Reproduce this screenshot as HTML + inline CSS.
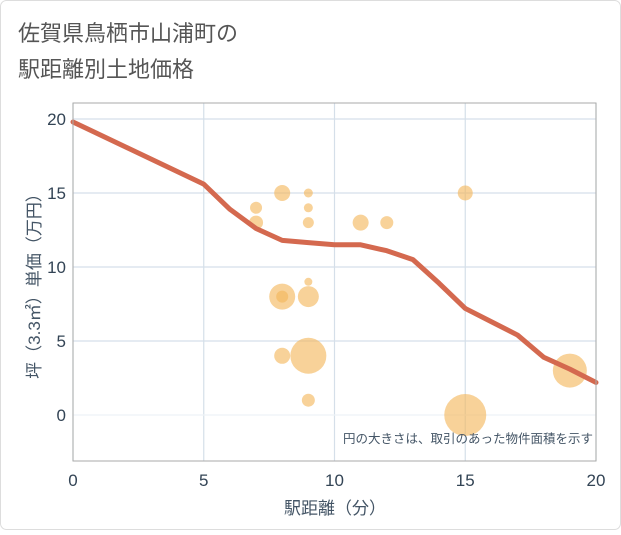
<!DOCTYPE html>
<html><head><meta charset="utf-8"><style>
body{margin:0;background:#fff;}
svg text{font-family:"Liberation Sans","Noto Sans CJK JP",sans-serif;}
</style></head><body>
<svg width="621" height="530" viewBox="0 0 621 530">
<rect x="0.5" y="0.5" width="620" height="529" rx="6" fill="#fff" stroke="#ddd"/>
<text x="18" y="41" font-size="22" fill="#555">佐賀県鳥栖市山浦町の</text>
<text x="18" y="77" font-size="22" fill="#555">駅距離別土地価格</text>
<g id="grid"></g>
<g id="bubbles"></g>
<g id="line"></g>
<rect x="73" y="103" width="523" height="358" fill="none" stroke="#aaa"/>
<g id="ticks"></g>
<text x="335" y="514" font-size="17" fill="#445566" text-anchor="middle">駅距離（分）</text>
<text transform="translate(40,282) rotate(-90)" font-size="17" fill="#445566" text-anchor="middle">坪（3.3㎡）単価（万円）</text>
<text x="593" y="443" font-size="12.5" fill="#445566" text-anchor="end">円の大きさは、取引のあった物件面積を示す</text>
</svg>
<script>
const xTicks=[0,5,10,15,20];
const yTicks=[0,5,10,15,20];
const bubbleX=[7,7,8,9,9,9,11,12,15,9,8,8,9,8,9,9,15,19];
const bubbleY=[14,13,15,15,14,13,13,13,15,9,8,8,8,4,4,1,0,3];
const bubbleR=[6,7,8,4.5,4.5,5.5,8,6.5,7.5,4,13,6,10.5,8,18,6.5,21,17];
const lineX=[0,5,6,7,8,9,10,11,12,13,14,15,16,17,18,19,20];
const lineY=[19.8,15.6,13.9,12.6,11.8,11.65,11.5,11.5,11.1,10.5,8.9,7.2,6.3,5.4,3.9,3.1,2.2];
const NS="http://www.w3.org/2000/svg";
const sx=v=>73+v*26.15, sy=v=>415-v*14.8;
function mk(t,a,p){const e=document.createElementNS(NS,t);for(const k in a)e.setAttribute(k,a[k]);p.appendChild(e);return e;}
const g=document.getElementById('grid'),tk=document.getElementById('ticks');
xTicks.forEach(v=>{const l=mk('line',{x1:sx(v),x2:sx(v),y1:103,y2:461,stroke:'#d5dfe9','stroke-width':1.2},g);

const t=mk('text',{x:sx(v),y:486,'font-size':17,fill:'#334455','text-anchor':'middle'},tk);t.textContent=v;
});
yTicks.forEach(v=>{const l=mk('line',{x1:73,x2:596,y1:sy(v),y2:sy(v),stroke:v===0?'#eef2f6':'#d5dfe9','stroke-width':1.2},g);

const t=mk('text',{x:66,y:sy(v)+6,'font-size':17,fill:'#334455','text-anchor':'end'},tk);t.textContent=v;
});
const b=document.getElementById('bubbles');
bubbleX.forEach((v,i)=>{const c=mk('circle',{cx:sx(v),cy:sy(bubbleY[i]),r:bubbleR[i],fill:'#f3b65a','fill-opacity':0.62},b);
});
const p=mk('polyline',{points:lineX.map((v,i)=>sx(v)+','+sy(lineY[i])).join(' '),fill:'none',stroke:'#d4694f','stroke-width':5,'stroke-linejoin':'round','stroke-linecap':'round'},document.getElementById('line'));

</script>
</body></html>
